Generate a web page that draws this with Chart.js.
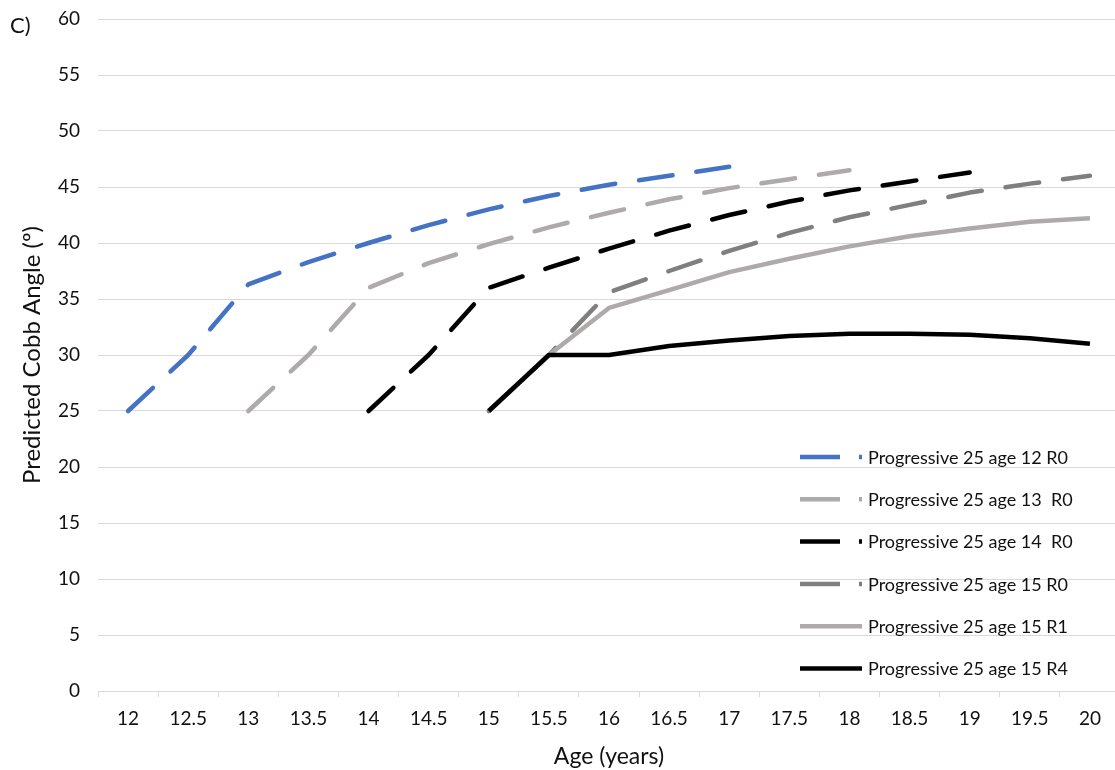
<!DOCTYPE html>
<html>
<head>
<meta charset="utf-8">
<script src="https://cdn.jsdelivr.net/npm/chart.js@4.4.1/dist/chart.umd.min.js"></script>
<style>
  html, body { margin: 0; padding: 0; background: #fff; overflow: hidden; }
  #wrap { position: relative; width: 1120px; height: 770px; }
</style>
</head>
<body>
<div id="wrap"><canvas id="cobbChart"></canvas></div>
<script>
const ages = ['12', '12.5', '13', '13.5', '14', '14.5', '15', '15.5', '16', '16.5', '17', '17.5', '18', '18.5', '19', '19.5', '20'];

const age12R0 = [25, 30, 36.3, 38.3, 40, 41.6, 43, 44.2, 45.2, 46, 46.8, null, null, null, null, null, null];
const age13R0 = [null, null, 25, 30, 36, 38.2, 39.9, 41.4, 42.7, 43.9, 44.9, 45.7, 46.5, null, null, null, null];
const age14R0 = [null, null, null, null, 25, 30, 36, 37.8, 39.5, 41.1, 42.5, 43.7, 44.7, 45.5, 46.3, null, null];
const age15R0 = [null, null, null, null, null, null, 25, 30, 35.6, 37.5, 39.3, 40.9, 42.3, 43.4, 44.5, 45.3, 46];
const age15R1 = [null, null, null, null, null, null, 25, 30, 34.2, 35.8, 37.4, 38.6, 39.7, 40.6, 41.3, 41.9, 42.2];
const age15R4 = [null, null, null, null, null, null, 25, 30, 30, 30.8, 31.3, 31.7, 31.9, 31.9, 31.8, 31.5, 31];

const seriesNames = [
  'Progressive 25 age 12 R0',
  'Progressive 25 age 13  R0',
  'Progressive 25 age 14  R0',
  'Progressive 25 age 15 R0',
  'Progressive 25 age 15 R1',
  'Progressive 25 age 15 R4'
];
const yTicks = [0, 5, 10, 15, 20, 25, 30, 35, 40, 45, 50, 55, 60];

const FONT = 'Lato';
const TEXT = '#111111';
const GRID = '#d9d9d9';
const DASH = [34, 24];

function lineSet(label, data, color, dashed, order) {
  return {
    label,
    data,
    borderColor: color,
    backgroundColor: color,
    borderWidth: 4.5,
    borderDash: dashed ? DASH : [],
    borderCapStyle: dashed ? 'round' : 'butt',
    borderJoinStyle: 'round',
    pointRadius: 0,
    tension: 0,
    fill: false,
    spanGaps: false,
    order
  };
}

// legend drawn by hand, Excel style, inside the plot
const legendPlugin = {
  id: 'insideLegend',
  afterDraw(chart) {
    const ctx = chart.ctx;
    const x0 = 800;
    const top = 457;
    const step = 42.3;
    ctx.save();
    chart.data.datasets.forEach((ds, i) => {
      const y = top + i * step;
      ctx.strokeStyle = ds.borderColor;
      ctx.lineWidth = 4.5;
      ctx.lineCap = 'butt';
      ctx.setLineDash(ds.borderDash.length ? [40, 19] : []);
      ctx.beginPath();
      ctx.moveTo(x0, y);
      ctx.lineTo(x0 + 62, y);
      ctx.stroke();
      ctx.setLineDash([]);
      ctx.fillStyle = TEXT;
      ctx.font = `18px ${FONT}`;
      ctx.textBaseline = 'middle';
      ctx.textAlign = 'left';
      ctx.fillText(ds.label, x0 + 68, y + 1);
    });
    ctx.font = `22px ${FONT}`;
    ctx.textBaseline = 'middle';
    ctx.fillText('C)', 10, 26);
    ctx.restore();
  }
};

const ctx = document.getElementById('cobbChart').getContext('2d');
new Chart(ctx, {
  type: 'line',
  data: {
    labels: ages,
    datasets: [
      lineSet(seriesNames[0], age12R0, '#4472c4', true, 6),
      lineSet(seriesNames[1], age13R0, '#aeaaaa', true, 5),
      lineSet(seriesNames[2], age14R0, '#000000', true, 4),
      lineSet(seriesNames[3], age15R0, '#7f7f7f', true, 3),
      lineSet(seriesNames[4], age15R1, '#aeaaaa', false, 2),
      lineSet(seriesNames[5], age15R4, '#000000', false, 1)
    ]
  },
  options: {
    responsive: true,
    maintainAspectRatio: false,
    animation: false,
    layout: { padding: { top: 19, right: 0, bottom: 0, left: 0 } },
    plugins: {
      legend: { display: false },
      tooltip: { enabled: false }
    },
    scales: {
      x: {
        offset: true,
        grid: {
          offset: true,
          drawOnChartArea: false,
          drawTicks: true,
          tickLength: 6,
          color: GRID
        },
        border: { display: true, color: GRID, width: 1 },
        ticks: {
          color: TEXT,
          font: { family: FONT, size: 19 },
          padding: 10,
          maxRotation: 0,
          autoSkip: false
        },
        title: {
          display: true,
          text: 'Age (years)',
          color: TEXT,
          font: { family: FONT, size: 23 },
          padding: { top: 0, bottom: 0 }
        },
        afterFit(scale) { scale.height = 79; }
      },
      y: {
        min: 0,
        max: 60,
        afterBuildTicks(scale) { scale.ticks = yTicks.map(v => ({ value: v })); },
        grid: { color: GRID, lineWidth: 1, drawTicks: false },
        border: { display: false },
        ticks: {
          color: TEXT,
          font: { family: FONT, size: 19 },
          padding: 18
        },
        title: {
          display: true,
          text: 'Predicted Cobb Angle (º)',
          color: TEXT,
          font: { family: FONT, size: 24 },
          padding: { top: 18, bottom: 0 }
        },
        afterFit(scale) {
          scale.width = 98;
          scale.paddingTop = 0;
          scale.paddingBottom = 0;
        }
      }
    }
  },
  plugins: [legendPlugin]
});
</script>
</body>
</html>
